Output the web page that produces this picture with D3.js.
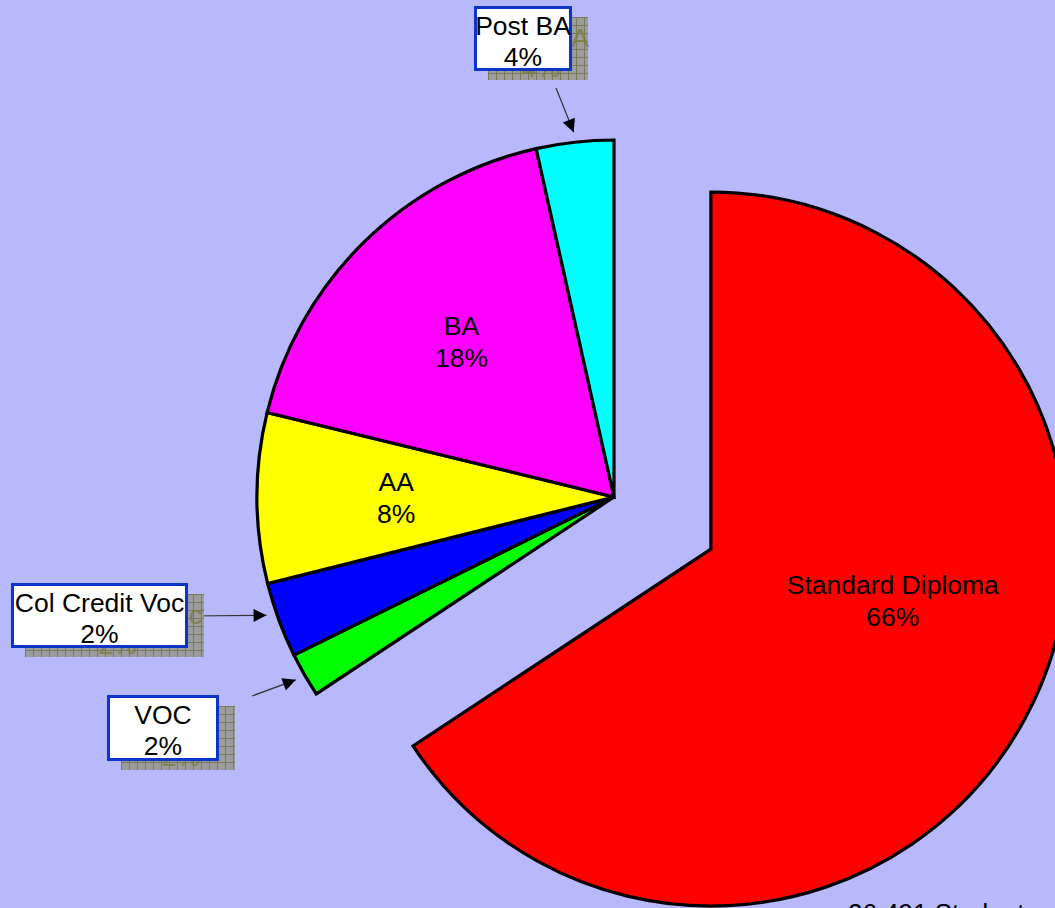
<!DOCTYPE html>
<html>
<head>
<meta charset="utf-8">
<script src="https://cdn.jsdelivr.net/npm/d3@7"></script>
<style>
  html, body { margin: 0; padding: 0; overflow: hidden; background: #b8b8fd; }
  text { font-family: "Liberation Sans", Arial, sans-serif; }
</style>
</head>
<body>
<div id="chart"></div>
<script>
// slice data, clockwise from 12 o'clock
var categories = ["Standard Diploma", "VOC", "Col Credit Voc", "AA", "BA", "Post BA"];
var shares = [65.7, 2.0, 3.4, 7.7, 17.7, 3.5];
var pctLabels = ["66%", "2%", "2%", "8%", "18%", "4%"];
var colors = ["#ff0000", "#00ff00", "#0000ff", "#ffff00", "#ff00ff", "#00ffff"];
var footnote = "26,491 Students";

var width = 1055, height = 908;
var cx = 614, cy = 497, r = 357;
var explode = 110;
var fs = "26.5px";

var svg = d3.select("#chart").append("svg")
    .attr("width", width)
    .attr("height", height);

var defs = svg.append("defs");

// hatched shadow behind call-out boxes
var pat = defs.append("pattern")
    .attr("id", "grid")
    .attr("patternUnits", "userSpaceOnUse")
    .attr("width", 8).attr("height", 8);
pat.append("rect").attr("width", 8).attr("height", 8).attr("fill", "#9c9c9c");
pat.append("path").attr("d", "M0,0.5H8M0.5,0V8")
    .attr("stroke", "#7a7a58").attr("stroke-width", 1);

defs.append("marker")
    .attr("id", "arrow")
    .attr("viewBox", "0 0 10 10")
    .attr("refX", 10).attr("refY", 5)
    .attr("markerUnits", "userSpaceOnUse")
    .attr("markerWidth", 15).attr("markerHeight", 13)
    .attr("orient", "auto")
  .append("path")
    .attr("d", "M0,0L10,5L0,10Z")
    .attr("fill", "#000");

var data = categories.map(function(c, i) {
  return {name: c, value: shares[i], pct: pctLabels[i], color: colors[i]};
});

var pie = d3.pie().sort(null).value(function(d) { return d.value; });
var arcs = pie(data);

var arc = d3.arc().innerRadius(0).outerRadius(r);

var g = svg.append("g")
    .attr("transform", "translate(" + cx + "," + cy + ")");

function mid(d) { return (d.startAngle + d.endAngle) / 2; }

var slices = g.selectAll("g.slice")
    .data(arcs)
  .enter().append("g")
    .attr("class", "slice")
    .attr("transform", function(d, i) {
      if (i != 0) return null;
      var a = mid(d);
      return "translate(" + (explode * Math.sin(a)) + "," + (-explode * Math.cos(a)) + ")";
    });

slices.append("path")
    .attr("d", arc)
    .attr("fill", function(d) { return d.data.color; })
    .attr("stroke", "#000")
    .attr("stroke-width", 3.2)
    .attr("stroke-linejoin", "miter");

// labels inside the big slices
var inside = {"Standard Diploma": {rad: 0.53, ang: 106}, "AA": {rad: 0.61}, "BA": {rad: 0.61}};

slices.filter(function(d) { return inside[d.data.name]; })
  .each(function(d) {
    var o = inside[d.data.name];
    var a = o.ang != null ? o.ang * Math.PI / 180 : mid(d);
    var x = r * o.rad * Math.sin(a), y = -r * o.rad * Math.cos(a);
    var t = d3.select(this).append("text")
        .attr("text-anchor", "middle")
        .attr("font-size", fs)
        .attr("fill", "#000");
    t.append("tspan").attr("x", x).attr("y", y - 7).text(d.data.name);
    t.append("tspan").attr("x", x).attr("y", y + 25).text(d.data.pct);
  });

// call-out boxes for the thin slices
var callouts = {
  "Post BA":        {x: 474, y: 6,   w: 98,  h: 65, sx: 556, sy: 88},
  "Col Credit Voc": {x: 11,  y: 583, w: 177, h: 65, sx: 190, sy: 616, ang: 251.2},
  "VOC":            {x: 107, y: 695, w: 112, h: 66, sx: 252, sy: 696}
};

arcs.forEach(function(d) {
  var c = callouts[d.data.name];
  if (!c) return;
  var a = c.ang != null ? c.ang * Math.PI / 180 : mid(d);
  var tx = cx + (r + 10) * Math.sin(a), ty = cy - (r + 10) * Math.cos(a);

  svg.append("line")
      .attr("x1", c.sx).attr("y1", c.sy)
      .attr("x2", tx).attr("y2", ty)
      .attr("stroke", "#333")
      .attr("stroke-width", 1.2)
      .attr("marker-end", "url(#arrow)");

  // shadow copy
  var sh = svg.append("g").attr("transform", "translate(" + (c.x + 14) + "," + (c.y + 11) + ")");
  sh.append("rect").attr("width", c.w + 2).attr("height", c.h - 2).attr("fill", "url(#grid)");
  var st = sh.append("text").attr("text-anchor", "middle").attr("font-size", fs)
      .attr("fill", "#7d7d40").attr("opacity", 0.8);
  st.append("tspan").attr("x", c.w / 2 + 4).attr("y", 30).text(d.data.name);
  st.append("tspan").attr("x", c.w / 2 + 4).attr("y", 60).text(d.data.pct);

  var bx = svg.append("g").attr("transform", "translate(" + c.x + "," + c.y + ")");
  bx.append("rect")
      .attr("x", 1.5).attr("y", 1.5)
      .attr("width", c.w - 3).attr("height", c.h - 3)
      .attr("fill", "#fff")
      .attr("stroke", "#0b35c8")
      .attr("stroke-width", 3);
  var bt = bx.append("text").attr("text-anchor", "middle").attr("font-size", fs).attr("fill", "#000");
  bt.append("tspan").attr("x", c.w / 2).attr("y", 29).text(d.data.name);
  bt.append("tspan").attr("x", c.w / 2).attr("y", 60).text(d.data.pct);
});

svg.append("text")
    .attr("x", 848).attr("y", 922)
    .attr("font-size", "26px")
    .attr("fill", "#000")
    .text(footnote);
</script>
</body>
</html>
